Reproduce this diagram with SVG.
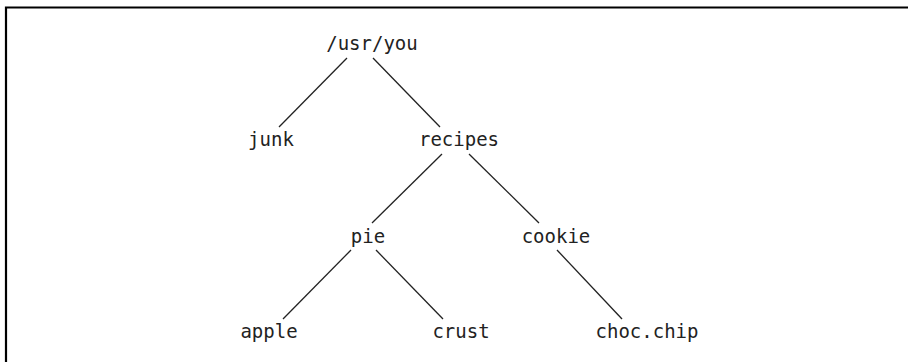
<svg xmlns="http://www.w3.org/2000/svg" width="908" height="362" viewBox="0 0 908 362">
<style>
.t{font-family:"DejaVu Sans Mono","Liberation Mono",monospace;font-size:19px;fill:#222;text-anchor:middle}
.e line{stroke:#222;stroke-width:1.3}
</style>
<rect width="908" height="362" fill="#fff"/>
<path d="M6,362 V7.5 H908" fill="none" stroke="#000" stroke-width="2.2"/>
<g class="e" id="connectors">
<line x1="347" y1="58" x2="279" y2="127"/>
<line x1="373" y1="58" x2="440" y2="127"/>
<line x1="442" y1="154" x2="372" y2="223"/>
<line x1="469" y1="154" x2="539" y2="223"/>
<line x1="351" y1="250" x2="283" y2="319"/>
<line x1="376" y1="250" x2="443" y2="319"/>
<line x1="557" y1="250" x2="622" y2="319"/>
</g>
<g id="usr-you"><text class="t" x="372" y="50">/usr/you</text></g>
<g id="junk"><text class="t" x="271" y="146">junk</text></g>
<g id="recipes"><text class="t" x="459" y="146">recipes</text></g>
<g id="pie"><text class="t" x="368" y="243">pie</text></g>
<g id="cookie"><text class="t" x="556" y="243">cookie</text></g>
<g id="apple"><text class="t" x="269" y="338">apple</text></g>
<g id="crust"><text class="t" x="461" y="338">crust</text></g>
<g id="choc-chip"><text class="t" x="647" y="338">choc.chip</text></g>
</svg>
